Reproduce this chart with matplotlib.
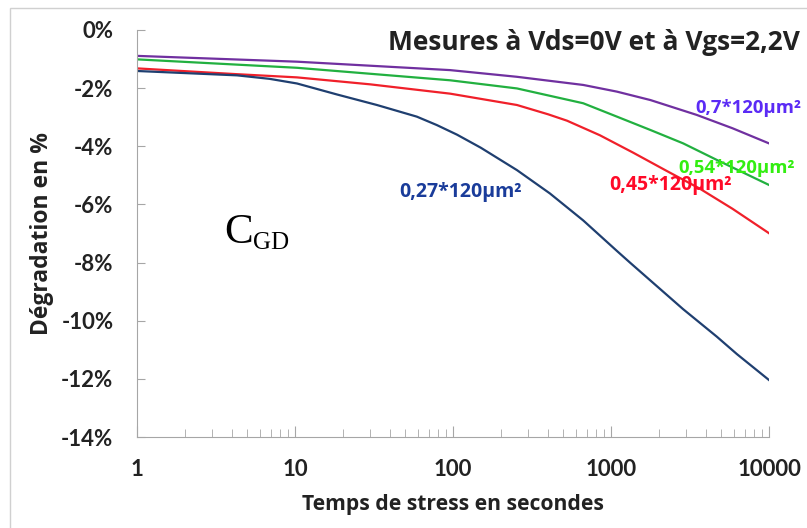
import matplotlib.pyplot as plt
from matplotlib.patches import Rectangle

# Data (time in s, degradation in %)
t_purple = [1, 10.3, 96, 254, 667, 1090, 1777, 3484, 5876, 10000]
v_purple = [-0.89, -1.09, -1.38, -1.61, -1.89, -2.12, -2.41, -2.92, -3.38, -3.90]

t_green = [1, 10.3, 96, 254, 667, 1090, 1777, 2863, 4677, 10000]
v_green = [-1.01, -1.30, -1.73, -2.01, -2.52, -2.98, -3.44, -3.90, -4.47, -5.33]

t_red = [1, 4.3, 10.3, 30, 96, 254, 400, 527, 850, 1382, 2256, 3630, 5876, 10000]
v_red = [-1.32, -1.52, -1.63, -1.87, -2.19, -2.58, -2.90, -3.12, -3.62, -4.22, -4.85, -5.45, -6.15, -6.99]

t_blue = [1, 4.3, 6.9, 10.3, 18.5, 33, 59, 79, 106, 150, 254, 410, 667, 1090, 1318, 2857, 4677, 6270, 10000]
v_blue = [-1.41, -1.56, -1.68, -1.84, -2.22, -2.58, -2.98, -3.27, -3.60, -4.05, -4.82, -5.62,
          -6.55, -7.60, -8.00, -9.60, -10.55, -11.15, -12.04]

y_ticks = [0, -2, -4, -6, -8, -10, -12, -14]
x_ticks = [1, 10, 100, 1000, 10000]

fig = plt.figure(figsize=(8.07, 5.28), dpi=100)
ax = fig.add_axes([137/807, 91/528, 632/807, 407/528])

# outer light frame
fig.patches.append(Rectangle((10/807, -0.1), 1.2, (528-8)/528 + 0.1, transform=fig.transFigure,
                             fill=False, edgecolor='#d0d0d0', lw=1))

ax.plot(t_purple, v_purple, color='#7030a0', lw=1.6)
ax.plot(t_green, v_green, color='#22b040', lw=1.6)
ax.plot(t_red, v_red, color='#f0202a', lw=1.6)
ax.plot(t_blue, v_blue, color='#1f3f70', lw=1.6)

ax.set_xscale('log')
ax.set_xlim(1, 10000)
ax.set_ylim(-14, 0)
ax.set_xticks(x_ticks)
ax.set_xticklabels([str(x) for x in x_ticks])
ax.set_yticks(y_ticks)
ax.set_yticklabels([f'{y}%' for y in y_ticks])

for s in ['top', 'right']:
    ax.spines[s].set_visible(False)
for s in ['left', 'bottom']:
    ax.spines[s].set_color('#a6a6a6')

ax.tick_params(axis='y', direction='in', length=6, color='#a6a6a6', pad=17)
ax.tick_params(axis='x', which='major', direction='in', length=8, color='#a6a6a6', pad=16)
ax.tick_params(axis='x', which='minor', direction='in', length=6, color='#a6a6a6')
for lab in ax.get_xticklabels() + ax.get_yticklabels():
    lab.set_fontfamily('Lato')
    lab.set_fontweight('bold')
    lab.set_fontsize(16)
    lab.set_color('#222222')

ax.set_xlabel('Temps de stress en secondes', fontfamily='Open Sans', fontweight='bold',
              fontsize=15.2, color='#222222', labelpad=10)
ax.set_ylabel('Dégradation en %', fontfamily='Open Sans', fontweight='bold',
              fontsize=16.5, color='#222222', labelpad=5)

fig.text(800/807, 1 - 50/528, 'Mesures à Vds=0V et à Vgs=2,2V', ha='right', va='baseline',
         fontfamily='Open Sans', fontweight='bold', fontsize=19, color='#222222')

# curve labels
lab_kw = dict(fontfamily='Open Sans', fontweight='bold', fontsize=14)
ax.text(46, -5.74, '0,27*120µm²', color='#1a3c9a', **lab_kw)
ax.text(971, -5.5, '0,45*120µm²', color='#ff0a28', **lab_kw)
ax.text(2655, -4.92, '0,54*120µm²', color='#33ee11', fontfamily='Open Sans', fontweight='bold', fontsize=13.3)
ax.text(3400, -2.86, '0,7*120µm²', color='#5b2bf5', fontfamily='Open Sans', fontweight='bold', fontsize=13.3)

# C_GD annotation
ax.text(0.138, 0.477, 'C', transform=ax.transAxes, fontfamily='Liberation Serif', fontsize=31, va='baseline')
ax.text(0.183, 0.462, 'GD', transform=ax.transAxes, fontfamily='Liberation Serif', fontsize=18, va='baseline')

fig.savefig('out.png', dpi=100)
